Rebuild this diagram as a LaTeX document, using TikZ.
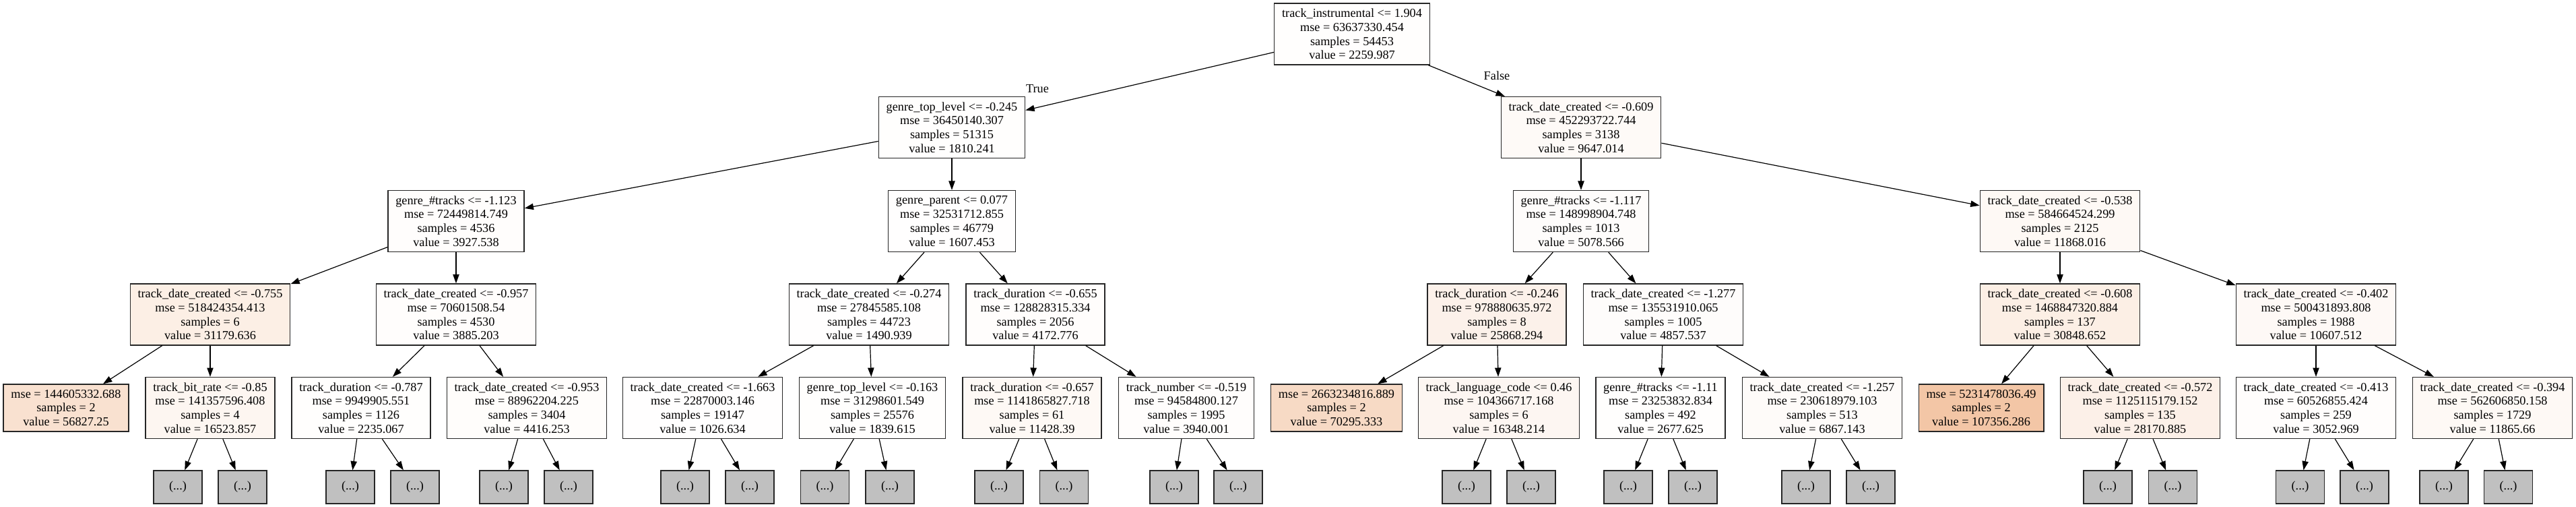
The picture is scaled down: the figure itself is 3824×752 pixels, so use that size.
\documentclass[tikz,border=0pt]{standalone}
\usepackage{fontspec}
\setmainfont{Liberation Serif}
\usetikzlibrary{arrows.meta}
\definecolor{sk}{RGB}{229,129,57}
\definecolor{ellip}{RGB}{192,192,192}
\tikzset{
  tn/.style={draw=black!85, line width=1pt, rectangle, align=center,
    font=\fontsize{13.7}{15.6}\selectfont, inner xsep=8.5pt, inner ysep=0pt,
    minimum height=68.25pt},
  lf/.style={tn, minimum height=52.5pt},
  more/.style={draw=black!85, line width=1pt, fill=ellip, minimum width=54pt,
    minimum height=36.75pt, inner sep=0pt, font=\fontsize{13.7}{15.6}\selectfont},
  edge/.style={-{Triangle[length=10pt,width=7pt]}, line width=0.9pt, black},
  lbl/.style={font=\fontsize{13.7}{15.6}\selectfont, inner sep=0pt}
}
\begin{document}
\begin{tikzpicture}[x=0.75pt,y=-0.75pt]
\fill[white] (0,0) rectangle (3824,752);
\useasboundingbox (0,0) rectangle (3824,752);
% level 0
\node[tn, fill=sk!0.9!white] (r) at (2007,50.5) {track\_instrumental <= 1.904\\mse = 63637330.454\\samples = 54453\\value = 2259.987};
% level 1
\node[tn, fill=sk!0.8!white] (A) at (1413,189) {genre\_top\_level <= -0.245\\mse = 36450140.307\\samples = 51315\\value = 1810.241};
\node[tn, fill=sk!4!white] (B) at (2347,189) {track\_date\_created <= -0.609\\mse = 452293722.744\\samples = 3138\\value = 9647.014};
% level 2
\node[tn, fill=sk!1.6!white] (C) at (677,328) {genre\_\#tracks <= -1.123\\mse = 72449814.749\\samples = 4536\\value = 3927.538};
\node[tn, fill=sk!0.7!white] (D) at (1413,328) {genre\_parent <= 0.077\\mse = 32531712.855\\samples = 46779\\value = 1607.453};
\node[tn, fill=sk!2.1!white] (E) at (2347,328) {genre\_\#tracks <= -1.117\\mse = 148998904.748\\samples = 1013\\value = 5078.566};
\node[tn, fill=sk!5!white] (F) at (3058,328) {track\_date\_created <= -0.538\\mse = 584664524.299\\samples = 2125\\value = 11868.016};
% level 3
\node[tn, fill=sk!13!white] (G) at (312,466.5) {track\_date\_created <= -0.755\\mse = 518424354.413\\samples = 6\\value = 31179.636};
\node[tn, fill=sk!1.6!white] (H) at (677,466.5) {track\_date\_created <= -0.957\\mse = 70601508.54\\samples = 4530\\value = 3885.203};
\node[tn, fill=sk!0.6!white] (I) at (1290,466.5) {track\_date\_created <= -0.274\\mse = 27845585.108\\samples = 44723\\value = 1490.939};
\node[tn, fill=sk!1.7!white] (J) at (1537,466.5) {track\_duration <= -0.655\\mse = 128828315.334\\samples = 2056\\value = 4172.776};
\node[tn, fill=sk!10.8!white] (K) at (2222,466.5) {track\_duration <= -0.246\\mse = 978880635.972\\samples = 8\\value = 25868.294};
\node[tn, fill=sk!2!white] (L) at (2469,466.5) {track\_date\_created <= -1.277\\mse = 135531910.065\\samples = 1005\\value = 4857.537};
\node[tn, fill=sk!13!white] (M) at (3058,466.5) {track\_date\_created <= -0.608\\mse = 1468847320.884\\samples = 137\\value = 30848.652};
\node[tn, fill=sk!4.4!white] (N) at (3438,466.5) {track\_date\_created <= -0.402\\mse = 500431893.808\\samples = 1988\\value = 10607.512};
% level 4
\node[lf, fill=sk!23.8!white] (G1) at (98,605) {mse = 144605332.688\\samples = 2\\value = 56827.25};
\node[tn, fill=sk!6.9!white] (G2) at (312,605) {track\_bit\_rate <= -0.85\\mse = 141357596.408\\samples = 4\\value = 16523.857};
\node[tn, fill=sk!0.9!white] (H1) at (536,605) {track\_duration <= -0.787\\mse = 9949905.551\\samples = 1126\\value = 2235.067};
\node[tn, fill=sk!1.9!white] (H2) at (782,605) {track\_date\_created <= -0.953\\mse = 88962204.225\\samples = 3404\\value = 4416.253};
\node[tn, fill=sk!0.4!white] (I1) at (1043,605) {track\_date\_created <= -1.663\\mse = 22870003.146\\samples = 19147\\value = 1026.634};
\node[tn, fill=sk!0.8!white] (I2) at (1295,605) {genre\_top\_level <= -0.163\\mse = 31298601.549\\samples = 25576\\value = 1839.615};
\node[tn, fill=sk!4.8!white] (J1) at (1532,605) {track\_duration <= -0.657\\mse = 1141865827.718\\samples = 61\\value = 11428.39};
\node[tn, fill=sk!1.7!white] (J2) at (1761,605) {track\_number <= -0.519\\mse = 94584800.127\\samples = 1995\\value = 3940.001};
\node[lf, fill=sk!29.5!white] (K1) at (1984,605) {mse = 2663234816.889\\samples = 2\\value = 70295.333};
\node[tn, fill=sk!6.8!white] (K2) at (2225,605) {track\_language\_code <= 0.46\\mse = 104366717.168\\samples = 6\\value = 16348.214};
\node[tn, fill=sk!1.1!white] (L1) at (2465,605) {genre\_\#tracks <= -1.11\\mse = 23253832.834\\samples = 492\\value = 2677.625};
\node[tn, fill=sk!2.9!white] (L2) at (2705,605) {track\_date\_created <= -1.257\\mse = 230618979.103\\samples = 513\\value = 6867.143};
\node[lf, fill=sk!45!white] (M1) at (2941,605) {mse = 5231478036.49\\samples = 2\\value = 107356.286};
\node[tn, fill=sk!11.8!white] (M2) at (3177,605) {track\_date\_created <= -0.572\\mse = 1125115179.152\\samples = 135\\value = 28170.885};
\node[tn, fill=sk!1.3!white] (N1) at (3438,605) {track\_date\_created <= -0.413\\mse = 60526855.424\\samples = 259\\value = 3052.969};
\node[tn, fill=sk!5!white] (N2) at (3700,605) {track\_date\_created <= -0.394\\mse = 562606850.158\\samples = 1729\\value = 11865.66};
% edge labels
\node[lbl] (ltrue) at (1540,132) {True};
\node[lbl] (lfalse) at (2222,112) {False};
% edges
\foreach \a/\b in {r/A, r/B, A/C, A/D, B/E, B/F, C/G, C/H, D/I, D/J, E/K, E/L, F/M, F/N,
  G/G1, G/G2, H/H1, H/H2, I/I1, I/I2, J/J1, J/J2, K/K1, K/K2, L/L1, L/L2, M/M1, M/M2, N/N1, N/N2}
  \draw[edge] (\a) -- (\b);
% truncated subtrees
\foreach \p/\xa/\xb in {G2/264/360, H1/520/616, H2/748/844, I1/1017/1113, I2/1224.5/1321,
  J1/1483/1579.5, J2/1743/1838, K2/2177/2273, L1/2417/2513, L2/2681/2777,
  M2/3129/3225.5, N1/3414.5/3510, N2/3628/3723.5} {
  \node[more] (\p-a) at (\xa,722.5) {(...)};
  \node[more] (\p-b) at (\xb,722.5) {(...)};
  \draw[edge] (\p) -- (\p-a);
  \draw[edge] (\p) -- (\p-b);
}
\end{tikzpicture}
\end{document}
